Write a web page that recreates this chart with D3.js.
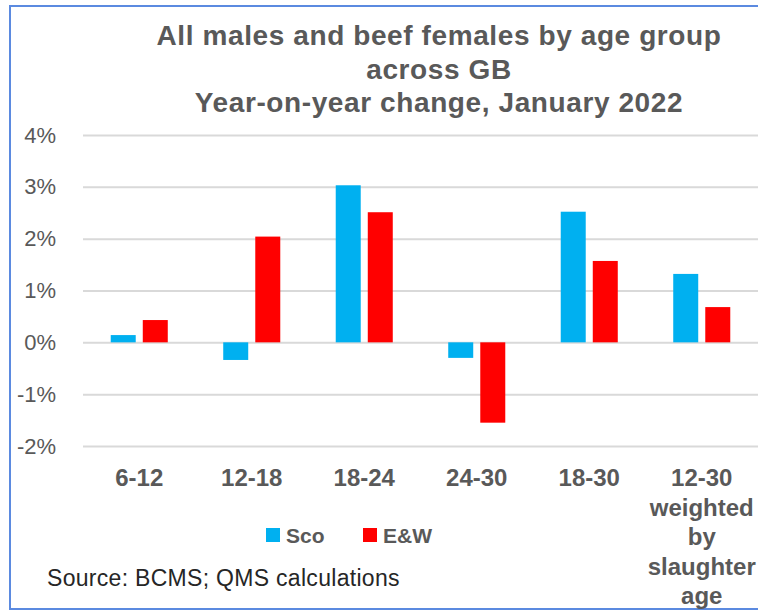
<!DOCTYPE html>
<html>
<head>
<meta charset="utf-8">
<script src="https://cdn.jsdelivr.net/npm/d3@7"></script>
<style>
  body { margin: 0; background: #fff; }
  svg { display: block; }
  .y.axis text { font-family: "Liberation Sans", Arial, sans-serif; font-size: 22px; fill: #595959; }
  .y.axis line { stroke: #d9d9d9; stroke-width: 2; }
  .x.axis text { font-family: "Liberation Sans", Arial, sans-serif; font-size: 24px; font-weight: bold; fill: #595959; }
</style>
</head>
<body>
<div id="chart-area"></div>
<script>
// data (percent)
var categories = ["6-12", "12-18", "18-24", "24-30", "18-30", "12-30 weighted by slaughter age"];
var categoryLines = [["6-12"], ["12-18"], ["18-24"], ["24-30"], ["18-30"], ["12-30", "weighted", "by", "slaughter", "age"]];
var seriesNames = ["Sco", "E&W"];
var sco = [0.14, -0.34, 3.03, -0.30, 2.52, 1.32];
var ew = [0.43, 2.04, 2.51, -1.55, 1.57, 0.68];
var yTicks = [-2, -1, 0, 1, 2, 3, 4];
var titleLines = ["All males and beef females by age group", "across GB", "Year-on-year change, January 2022"];
var source = "Source: BCMS; QMS calculations";

var colors = { "Sco": "#00b0f0", "E&W": "#ff0000" };

var W = 758, H = 611;
var margin = { left: 83, right: 0, top: 135, bottom: 165 };
var width = W - margin.left - margin.right;
var height = H - margin.top - margin.bottom;

var svg = d3.select("#chart-area").append("svg")
	.attr("width", W)
	.attr("height", H);

// frame
svg.append("rect")
	.attr("x", 10).attr("y", 6)
	.attr("width", 770).attr("height", 603)
	.attr("fill", "#fff")
	.attr("stroke", "#5b8ae0")
	.attr("stroke-width", 2);

// title
svg.append("g").selectAll("text").data(titleLines).enter().append("text")
	.attr("x", 439)
	.attr("y", (d, i) => 45 + i * 33.5)
	.attr("text-anchor", "middle")
	.attr("font-family", "'Liberation Sans', Arial, sans-serif")
	.attr("font-weight", "bold")
	.attr("font-size", "28px")
	.attr("letter-spacing", "0.6px")
	.attr("fill", "#595959")
	.text(d => d);

var g = svg.append("g")
	.attr("transform", "translate(" + margin.left + "," + margin.top + ")");

var y = d3.scaleLinear().domain([-2, 4]).range([height, 0]);

var x0 = d3.scaleBand().domain(categories).range([0, width])
	.paddingInner(0.493).paddingOuter(0.2465);

var x1 = d3.scaleBand().domain(seriesNames).range([0, x0.bandwidth()])
	.paddingInner(0.22);

// gridlines + y labels
var yAxisGroup = g.append("g").attr("class", "y axis")
	.call(d3.axisLeft(y).tickValues(yTicks)
		.tickSize(-width).tickPadding(27)
		.tickFormat(d => d + "%"));
yAxisGroup.select(".domain").remove();

// bars
var rows = categories.map((c, i) => ({ cat: c, values: [{ s: "Sco", v: sco[i] }, { s: "E&W", v: ew[i] }] }));

var groups = g.selectAll("g.cat").data(rows).enter().append("g")
	.attr("class", "cat")
	.attr("transform", d => "translate(" + x0(d.cat) + ",0)");

groups.selectAll("rect").data(d => d.values).enter().append("rect")
	.attr("x", d => x1(d.s))
	.attr("width", x1.bandwidth())
	.attr("y", d => y(Math.max(0, d.v)))
	.attr("height", d => Math.abs(y(d.v) - y(0)))
	.attr("fill", d => colors[d.s]);

// category labels
var xAxisGroup = g.append("g").attr("class", "x axis")
	.attr("transform", "translate(0," + height + ")")
	.call(d3.axisBottom(x0).tickSize(0).tickPadding(0));
xAxisGroup.select(".domain").remove();
xAxisGroup.selectAll(".tick text").each(function (d, i) {
	var t = d3.select(this).text(null).attr("y", 0).attr("dy", null);
	categoryLines[i].forEach((line, k) => {
		t.append("tspan").attr("x", 0).attr("y", 40 + k * 29.5).text(line);
	});
});

// legend
var legend = svg.append("g").attr("transform", "translate(266,528)");
var items = legend.selectAll("g").data(seriesNames).enter().append("g")
	.attr("transform", (d, i) => "translate(" + i * 97 + ",0)");
items.append("rect").attr("width", 14).attr("height", 14).attr("fill", d => colors[d]);
items.append("text")
	.attr("x", 20).attr("y", 15)
	.attr("font-family", "'Liberation Sans', Arial, sans-serif")
	.attr("font-weight", "bold")
	.attr("font-size", "21px")
	.attr("fill", "#595959")
	.text(d => d);

// source
svg.append("text")
	.attr("x", 47).attr("y", 586)
	.attr("font-family", "'Liberation Sans', Arial, sans-serif")
	.attr("font-size", "23px")
	.attr("letter-spacing", "0.3px")
	.attr("fill", "#262626")
	.text(source);
</script>
</body>
</html>
